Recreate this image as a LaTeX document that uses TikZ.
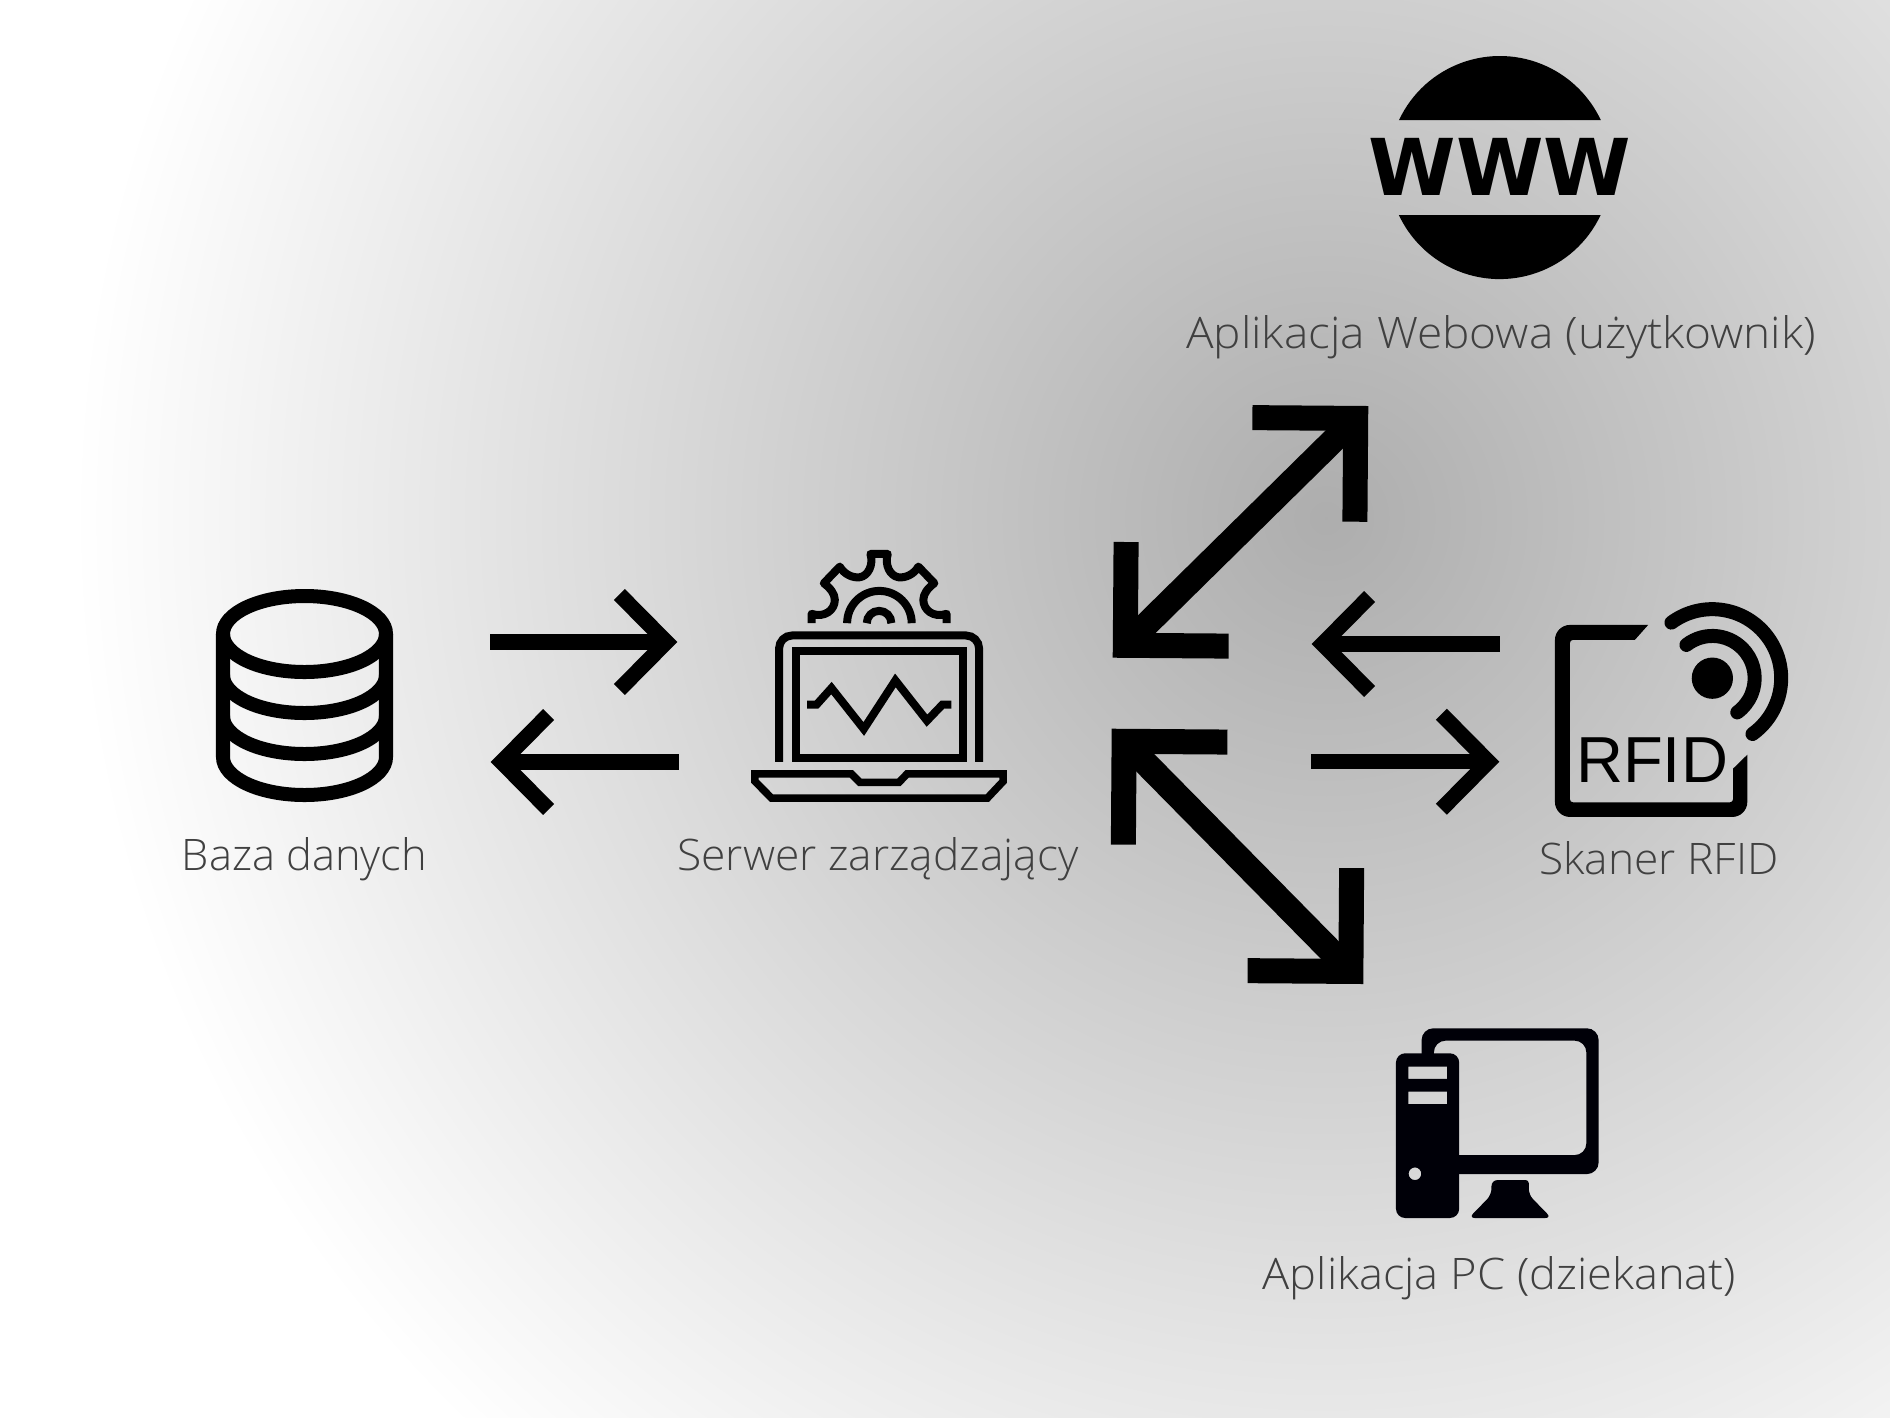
\documentclass[tikz,border=0pt]{standalone}
\usepackage{fontspec}
\setmainfont{Open Sans Light}
\newfontfamily\rfidfont{Liberation Sans}
\newfontfamily\wwwfont{DejaVu Sans}[BoldFont={DejaVu Sans Bold}]
\usetikzlibrary{arrows.meta}
\definecolor{bgmid}{gray}{0.68}
\definecolor{labelgray}{HTML}{404040}
\pgfdeclareradialshading{bgglow}{\pgfpoint{0bp}{0bp}}{color(0bp)=(bgmid); color(25bp)=(white); color(50bp)=(white)}
\tikzset{
  lbl/.style={anchor=base,inner sep=0pt,text=labelgray,font=\fontsize{12.35}{14}\selectfont},
  onearrow/.style={line width=.155cm,-{Straight Barb[length=.47cm,width=.95cm]}},
  bigarrow/.style={line width=.25cm,{Straight Barb[length=.73cm,width=1.46cm]}-{Straight Barb[length=.73cm,width=1.46cm]}},
  icon/.style={line width=.14cm},
  lap/.style={line width=.08cm,miter limit=10},
  zoomed/.style={x=.0033333cm,y=-.0033333cm}
}
\begin{document}
\begin{tikzpicture}[x=.01cm,y=-.01cm]
\useasboundingbox (0,0) rectangle (1890,1417);
\begin{scope}
\clip (0,0) rectangle (1890,1417);
\fill[white] (0,0) rectangle (1890,1417);
\path[shading=bgglow] (1326,518) circle (1253);
\end{scope}

% Database
\draw[icon] (304.5,634) ellipse [x radius=81.5,y radius=38];
\draw[icon] (223,634) -- (223,757) arc [start angle=180,end angle=0,x radius=81.5,y radius=38] -- (386,634);
\draw[icon] (223,675) arc [start angle=180,end angle=0,x radius=81.5,y radius=38];
\draw[icon] (223,716) arc [start angle=180,end angle=0,x radius=81.5,y radius=38];
\node[lbl] (baza) at (304.5,870) {Baza danych};

% Laptop
\begin{scope}[shift={(720,520)},zoomed]
\draw[lap,line join=round,line cap=butt] (275,310) -- (275,282) .. controls (315,295) and (345,270) .. (345,240) .. controls (345,222) and (332,205) .. (312,190) -- (360,140) .. controls (372,162) and (398,175) .. (420,172) .. controls (445,168) and (462,135) .. (452,102) -- (504,102) .. controls (494,135) and (511,168) .. (536,172) .. controls (558,175) and (584,162) .. (596,140) -- (644,190) .. controls (624,205) and (611,222) .. (611,240) .. controls (611,270) and (641,295) .. (681,282) -- (681,310);
\draw[lap] (382,310) arc [start angle=180,end angle=360,radius=97];
\draw[lap] (441,310) arc [start angle=180,end angle=360,radius=37];
\draw[lap,rounded corners=.13cm] (177.5,727) -- (177.5,347) -- (778.5,347) -- (778.5,727);
\draw[lap] (227,395) rectangle (731,715);
\draw[lap] (262,555) -- (290,555) -- (335,505) -- (432,628) -- (527,482) -- (622,603) -- (668,555) -- (695,555);
\draw[lap,line width=.075cm] (105,763) -- (395,763) -- (420,788) -- (538,788) -- (562,763) -- (851,763) -- (851,785) -- (803,836) -- (155,836) -- (105,785) -- cycle;
\end{scope}
\node[lbl,xscale=1.021] (serwer) at (878,870) {Serwer zarządzający};

% WWW
\begin{scope}[shift={(1360,40)},zoomed]
\fill (117,241) arc [start angle=-154.9,end angle=-25.1,radius=335] -- cycle;
\fill (723,526) arc [start angle=25.2,end angle=154.8,radius=335] -- cycle;
\node[anchor=base,inner sep=0pt,xscale=1.012,font=\fontsize{22.3}{24}\selectfont\wwwfont\bfseries] (www) at (420,468) {WWW};
\end{scope}
\node[lbl,xscale=1.059] (web) at (1501,348) {Aplikacja Webowa (użytkownik)};

% RFID
\begin{scope}[shift={(1520,580)},zoomed]
\fill (385,135) [rounded corners=.15cm] -- (105,135) -- (105,712) -- (683,712) [sharp corners] -- (683,525) -- (640,567) [rounded corners=.03cm] -- (640,668) -- (150,668) -- (150,180) [sharp corners] -- (345,180) -- cycle;
\node[anchor=base,inner sep=0pt,font=\fontsize{18.5}{20}\selectfont\rfidfont] (rfid) at (397,607) {RFID};
\fill (578,295) circle (62);
\draw[line width=.14cm,line cap=round] (500,195) arc [start angle=-128,end angle=54,radius=127];
\draw[line width=.14cm,line cap=round] (455,128) arc [start angle=-126.4,end angle=54.3,radius=207];
\end{scope}
\node[lbl,xscale=1.02] (skaner) at (1659,874) {Skaner RFID};

% PC
\begin{scope}[shift={(1370,1010)},zoomed,fill=black!97!blue]
\fill (155,135) [rounded corners=.117cm] -- (155,55) -- (687,55) -- (687,493) [sharp corners] -- (260,493) -- (260,436) [rounded corners=.117cm] -- (650,436) -- (650,92) -- (192,92) [sharp corners] -- (192,135) -- cycle;
\fill[even odd rule] [rounded corners=.093cm] (78,130) -- (268,130) -- (268,625) -- (78,625) -- cycle [sharp corners] (115,170) rectangle (232,207) (115,245) rectangle (232,283) (135,492) circle (19);
\fill[rounded corners=.03cm] (365,511) -- (477,511) [rounded corners=.06cm] -- (477,555) -- (545,625) -- (297,625) -- (365,555) -- cycle;
\end{scope}
\node[lbl,xscale=1.042] (pc) at (1499.5,1289) {Aplikacja PC (dziekanat)};

% Arrow end points
\coordinate (a1s) at (490,642);    \coordinate (a1e) at (677.3,642);
\coordinate (a2s) at (678.7,762);  \coordinate (a2e) at (490.7,762);
\coordinate (a3s) at (1499.7,644); \coordinate (a3e) at (1311.7,644);
\coordinate (a4s) at (1311.3,761.7); \coordinate (a4e) at (1499.3,761.7);
\coordinate (b1a) at (1368.3,406); \coordinate (b1b) at (1112.7,657.7);
\coordinate (b2a) at (1111.7,728.7); \coordinate (b2b) at (1363.3,984);

\draw[onearrow] (a1s) -- (a1e);
\draw[onearrow] (a2s) -- (a2e);
\draw[onearrow] (a3s) -- (a3e);
\draw[onearrow] (a4s) -- (a4e);
\draw[bigarrow] (b1a) -- (b1b);
\draw[bigarrow] (b2a) -- (b2b);
\end{tikzpicture}
\end{document}
